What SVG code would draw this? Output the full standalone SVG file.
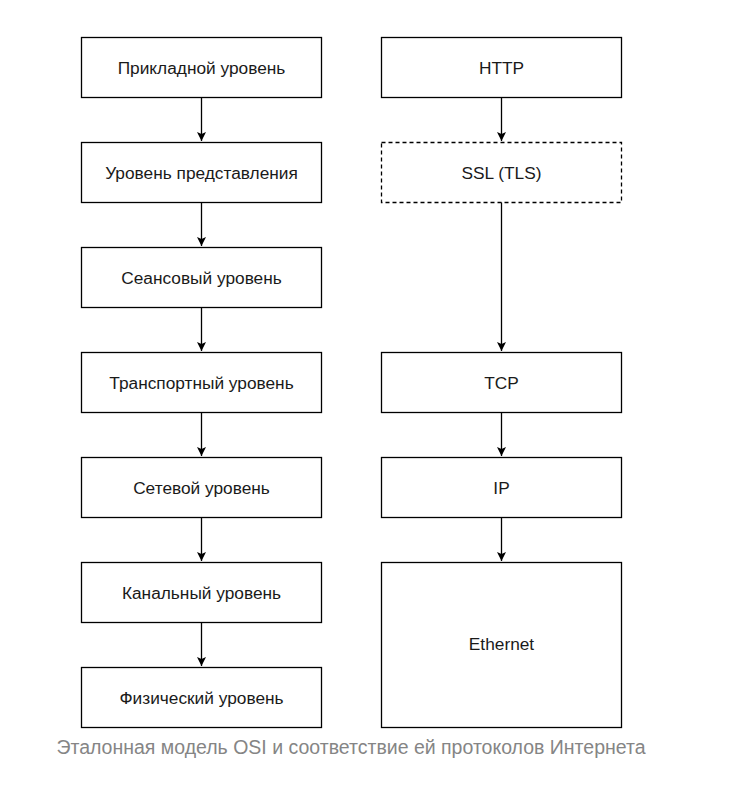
<svg xmlns="http://www.w3.org/2000/svg" width="734" height="801" viewBox="0 0 734 801">
<style>
.box{fill:#fff;stroke:#000;stroke-width:1.3}
.dash{stroke-dasharray:4 3}
.t{font-family:"Liberation Sans",Arial,sans-serif;font-size:17.3px;fill:#1a1a1a;text-anchor:middle}
.cap{font-family:"Liberation Sans",Arial,sans-serif;font-size:19.5px;fill:#858585;text-anchor:middle}
.c{stroke:#000;stroke-width:1.3;fill:none;marker-end:url(#ah)}
</style>
<defs>
<marker id="ah" markerWidth="12" markerHeight="12" refX="10" refY="6" orient="auto" markerUnits="userSpaceOnUse">
<path d="M1,1.5 L10,6 L1,10.5 L3,6 Z" fill="#000"/>
</marker>
</defs>
<rect width="734" height="801" fill="#fff"/>
<g id="connectors">
<path class="c" d="M201.5,97 V141"/>
<path class="c" d="M201.5,202 V246"/>
<path class="c" d="M201.5,307 V351"/>
<path class="c" d="M201.5,412 V456"/>
<path class="c" d="M201.5,517 V561"/>
<path class="c" d="M201.5,622 V666"/>
<path class="c" d="M501.5,97 V141"/>
<path class="c" d="M501.5,202 V351"/>
<path class="c" d="M501.5,412 V456"/>
<path class="c" d="M501.5,517 V561"/>
</g>
<g id="n1"><rect class="box" x="81.5" y="37.5" width="240" height="60"/><text class="t" x="201.5" y="74">Прикладной уровень</text></g>
<g id="n2"><rect class="box" x="81.5" y="142.5" width="240" height="60"/><text class="t" x="201.5" y="179">Уровень представления</text></g>
<g id="n3"><rect class="box" x="81.5" y="247.5" width="240" height="60"/><text class="t" x="201.5" y="284">Сеансовый уровень</text></g>
<g id="n4"><rect class="box" x="81.5" y="352.5" width="240" height="60"/><text class="t" x="201.5" y="389">Транспортный уровень</text></g>
<g id="n5"><rect class="box" x="81.5" y="457.5" width="240" height="60"/><text class="t" x="201.5" y="494">Сетевой уровень</text></g>
<g id="n6"><rect class="box" x="81.5" y="562.5" width="240" height="60"/><text class="t" x="201.5" y="599">Канальный уровень</text></g>
<g id="n7"><rect class="box" x="81.5" y="667.5" width="240" height="60"/><text class="t" x="201.5" y="704">Физический уровень</text></g>
<g id="p1"><rect class="box" x="381.5" y="37.5" width="240" height="60"/><text class="t" x="501.5" y="74">HTTP</text></g>
<g id="p2"><rect class="box dash" x="381.5" y="142.5" width="240" height="60"/><text class="t" x="501.5" y="179">SSL (TLS)</text></g>
<g id="p3"><rect class="box" x="381.5" y="352.5" width="240" height="60"/><text class="t" x="501.5" y="389">TCP</text></g>
<g id="p4"><rect class="box" x="381.5" y="457.5" width="240" height="60"/><text class="t" x="501.5" y="494">IP</text></g>
<g id="p5"><rect class="box" x="381.5" y="562.5" width="240" height="165"/><text class="t" x="501.5" y="650">Ethernet</text></g>
<text class="cap" x="351" y="754">Эталонная модель OSI и соответствие ей протоколов Интернета</text>
</svg>
